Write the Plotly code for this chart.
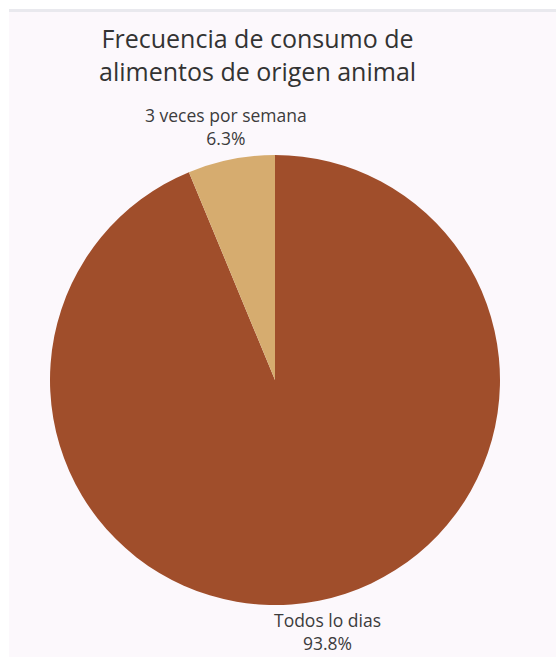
import plotly.graph_objects as go
import math

labels = ["Todos lo dias", "3 veces por semana"]
values = [15, 1]
colors = ["#A04E2B", "#D6AC6F"]
title_lines = ["Frecuencia de consumo de", "alimentos de origen animal"]

W, H = 556, 657
cx, cy, r = 275, 380, 225

total = sum(values)
pct = [f"{math.floor(v * 1000 / total + 0.5) / 10:.1f}%" for v in values]

fig = go.Figure(go.Pie(
    labels=labels,
    values=values,
    marker=dict(colors=colors, line=dict(width=0)),
    sort=False,
    direction="clockwise",
    rotation=0,
    textinfo="none",
    showlegend=False,
    hoverinfo="label+percent",
    domain=dict(x=[(cx - r) / W - 0.05, (cx + r) / W + 0.05],
                y=[(H - (cy + r)) / H, (H - (cy - r)) / H]),
))

lab_font = dict(family="Open Sans", size=17.5, color="#3c3c3c")

annotations = [
    dict(text="<br>".join(title_lines), x=257 / W, y=1 - 55 / H, xref="paper", yref="paper",
         xanchor="center", yanchor="middle", showarrow=False,
         font=dict(family="Open Sans", size=25, color="#333333")),
    dict(text=f"{labels[1]}<br>{pct[1]}", x=226 / W, y=1 - 152 / H, xref="paper", yref="paper",
         xanchor="center", yanchor="bottom", showarrow=False, font=lab_font),
    dict(text=f"{labels[0]}<br>{pct[0]}", x=327 / W, y=1 - 606 / H, xref="paper", yref="paper",
         xanchor="center", yanchor="top", showarrow=False, font=lab_font),
]

fig.update_layout(
    width=W, height=H,
    margin=dict(l=0, r=0, t=0, b=0),
    paper_bgcolor="#FFFFFF",
    annotations=annotations,
    shapes=[
        dict(type="rect", xref="paper", yref="paper", x0=9 / W, x1=1.0,
             y0=0, y1=1 - 9 / H, fillcolor="#FCF8FC", line=dict(width=0), layer="below"),
        dict(type="rect", xref="paper", yref="paper", x0=9 / W, x1=1.0,
             y0=1 - 12 / H, y1=1 - 9 / H, fillcolor="#E9E9EE", line=dict(width=0), layer="below"),
    ],
)

fig.write_html("out.html")
